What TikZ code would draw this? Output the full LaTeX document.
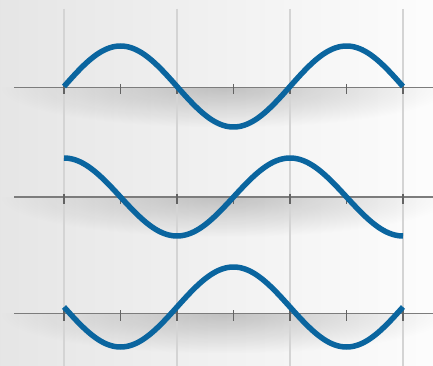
\documentclass[tikz,border=0pt]{standalone}
\usetikzlibrary{fadings}
\definecolor{wavecol}{HTML}{0A659F}
\definecolor{gridcol}{HTML}{D4D4D4}
\definecolor{axiscol}{HTML}{7C7C7C}
\tikzfading[name=shfade, inner color=transparent!0, outer color=transparent!100]
\tikzset{
  wave/.style={draw=wavecol, line width=5.5pt, line cap=butt},
  gridline/.style={draw=gridcol, line width=1.6pt},
  axisline/.style={draw=axiscol, line width=1.6pt},
  tickmark/.style={draw=axiscol!80!black, line width=1.3pt},
}
\begin{document}
\begin{tikzpicture}[x=1pt,y=-1pt]
\useasboundingbox (0,0) rectangle (433,366);
\shade[left color=black!10, right color=black!1] (0,0) rectangle (433,366);
% shadows below the axes
\foreach \ay in {87.5,197,313.5}{
  \begin{scope}
    \clip (0,\ay) rectangle (433,\ay+50);
    \fill[black, opacity=0.2, path fading=shfade] (0,\ay-40) rectangle (450,\ay+40);
  \end{scope}
}
% vertical grid lines
\foreach \gx in {64,177,290,403}{
  \draw[gridline] (\gx,9) -- (\gx,366);
}
% axes and ticks
\foreach \ay in {87.5,197,313.5}{
  \draw[axisline] (14,\ay) -- (433,\ay);
  \foreach \tx in {64,120.5,177,233.5,290,346.5,403}{
    \draw[tickmark] (\tx,\ay-3.5) -- (\tx,\ay+7);
  }
}
% waves
\draw[wave] plot[domain=64:403, samples=150, smooth] (\x, {86.5 - 40.5*sin((\x-64)/226*360)});
\draw[wave] plot[domain=64:403, samples=150, smooth] (\x, {197 - 39*cos((\x-64)/226*360)});
\draw[wave] plot[domain=64:403, samples=150, smooth] (\x, {307 + 40*sin((\x-64)/226*360)});
\end{tikzpicture}
\end{document}
